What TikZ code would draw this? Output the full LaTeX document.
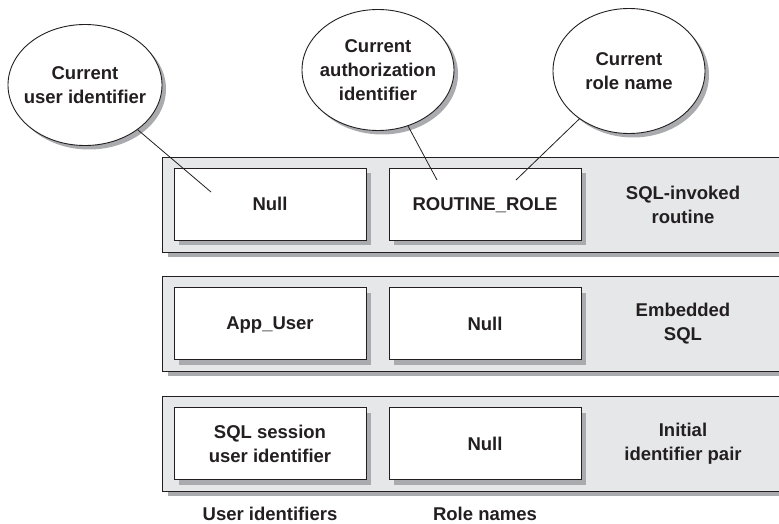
\documentclass[tikz,border=0pt]{standalone}
\usepackage{fontspec}
\setmainfont{Liberation Sans}
\usetikzlibrary{shapes.geometric,shadows}

\definecolor{bandgray}{HTML}{E6E7E8}
\definecolor{shadegray}{HTML}{A9ABAE}
\definecolor{inkgray}{HTML}{231F20}

\tikzset{
	txt/.style={font=\fontsize{18.5}{24}\selectfont\bfseries, text=inkgray, align=center},
	band/.style={draw=inkgray, fill=bandgray, line width=0.9pt, anchor=north west,
		minimum width=660pt, minimum height=95pt, inner sep=0pt,
		drop shadow={shadow xshift=6pt, shadow yshift=-5pt, fill=shadegray, opacity=1}},
	idbox/.style={txt, draw=inkgray, fill=white, line width=0.9pt,
		minimum width=192pt, minimum height=72pt, inner sep=0pt,
		drop shadow={shadow xshift=5pt, shadow yshift=-5pt, fill=shadegray, opacity=1}},
	bubble/.style={txt, ellipse, draw=inkgray, fill=white, line width=0.9pt,
		inner xsep=-8pt, inner ysep=0pt,
		drop shadow={shadow xshift=4pt, shadow yshift=-4pt, fill=shadegray, opacity=1}},
	tie/.style={draw=inkgray, line width=0.8pt}
}

\begin{document}
\begin{tikzpicture}[x=1pt,y=-1pt]
	\clip (0,0) rectangle (779,524);

	% the three levels
	\node[band] (bnd1) at (162,157) {};
	\node[band] (bnd2) at (162,276) {};
	\node[band] (bnd3) at (162,396) {};

	\node[idbox] (uid1) at (270,204) {Null};
	\node[idbox, text depth=0pt] (rol1) at (485,204) {ROUTINE\_ROLE};
	\node[txt] (lvl1) at (683,204.5) {SQL-invoked\\routine};

	\node[idbox, text depth=0pt] (uid2) at (270,323.5) {App\_User};
	\node[idbox] (rol2) at (485,323.5) {Null};
	\node[txt] (lvl2) at (683,324) {Embedded\\SQL};

	\node[idbox] (uid3) at (270,443.5) {SQL session\\user identifier};
	\node[idbox] (rol3) at (485,443.5) {Null};
	\node[txt] (lvl3) at (683,443.5) {Initial\\identifier pair};

	\node[txt, anchor=base] (ucol) at (270,520.5) {User identifiers};
	\node[txt, anchor=base] (rcol) at (485,520.5) {Role names};

	% current values
	\node[bubble, minimum width=154pt, minimum height=121pt] (cuser) at (85,85) {Current\\user identifier};
	\node[bubble, minimum width=152pt, minimum height=121pt] (cauth) at (378,70) {Current\\authorization\\identifier};
	\node[bubble, minimum width=152pt, minimum height=125pt] (crole) at (629,71) {Current\\role name};

	\coordinate (pu) at (211,192);
	\coordinate (pa) at (437,180);
	\coordinate (pr) at (516,180);
	\draw[tie] (cuser) -- (pu);
	\draw[tie] (cauth) -- (pa);
	\draw[tie] (crole) -- (pr);
\end{tikzpicture}
\end{document}
